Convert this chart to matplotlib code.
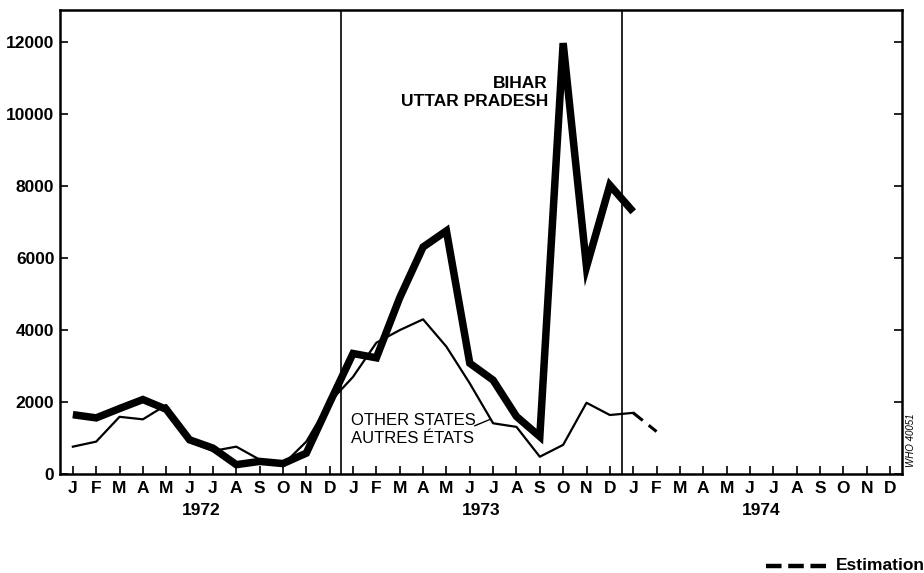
import matplotlib
matplotlib.use("Agg")
import matplotlib.pyplot as plt
import numpy as np

plt.rcParams['font.family'] = ['Liberation Sans Narrow', 'Liberation Sans', 'DejaVu Sans']

months = ["J", "F", "M", "A", "M", "J", "J", "A", "S", "O", "N", "D"]
years = ["1972", "1973", "1974"]

# Bihar / Uttar Pradesh, Jan 1972 .. Jan 1974
bihar_up = [1650, 1560, 1820, 2070, 1800, 950, 720, 260, 350, 290, 580, 1980,
            3350, 3230, 4900, 6310, 6760, 3080, 2610, 1600, 1040, 11980, 5760, 8030,
            7290]
# Other states, Jan 1972 .. Jan 1974
other_states = [760, 900, 1590, 1520, 1920, 900, 640, 760, 400, 260, 900, 2000,
                2700, 3650, 4000, 4300, 3540, 2520, 1410, 1310, 480, 810, 1980, 1640,
                1700]
# Estimated other states, Jan 1974 .. Feb 1974
other_est = [1700, 1180]

yticks = [0, 2000, 4000, 6000, 8000, 10000, 12000]

fig = plt.figure(figsize=(9.24, 5.73), dpi=100)
ax = fig.add_axes([60/924, 1-474/573, (901.7-60)/924, (474-10)/573])

x_main = np.arange(len(bihar_up))
ax.plot(x_main, bihar_up, color='black', lw=5.4, solid_joinstyle='miter', solid_capstyle='butt')
ax.plot(np.arange(len(other_states)), other_states, color='black', lw=1.6)
ax.plot(np.arange(24, 24 + len(other_est)), other_est, color='black', lw=2.2,
        dashes=(4, 2.5))

ax.axvline(11.5, color='black', lw=1.2)
ax.axvline(23.5, color='black', lw=1.2)

ax.set_xlim(-0.55, 35.5)
ax.set_ylim(0, 12900)

ax.set_yticks(yticks)
ax.set_yticklabels([str(v) for v in yticks], fontsize=12.5, fontweight='bold')
ax.set_xticks(np.arange(36))
ax.set_xticklabels(months * 3, fontsize=12.5, fontweight='bold')
ax.tick_params(axis='both', direction='in', length=6, width=1.2, right=True, pad=5)
ax.tick_params(axis='y', pad=4)
for s in ax.spines.values():
    s.set_linewidth(1.8)

for i, yr in enumerate(years):
    ax.text(5.5 + 12*i, -0.062, yr, transform=ax.get_xaxis_transform(),
            ha='center', va='top', fontsize=12.5, fontweight='bold')

ax.text(20.35, 10600, "BIHAR\nUTTAR PRADESH", ha='right', va='center',
        fontsize=12.5, fontweight='bold', linespacing=1.25)
ax.text(11.9, 1250, "OTHER STATES\nAUTRES ÉTATS", ha='left', va='center',
        fontsize=12, linespacing=1.25)
ax.annotate("", xy=(17.95, 1540), xytext=(17.1, 1310),
            arrowprops=dict(arrowstyle='-', color='black', lw=1.0))

fig.text(911/924, 1-440/573, "WHO 40051", rotation=90, ha='center', va='center',
         fontsize=7, style='italic')

fig.add_artist(plt.Line2D([766/924, 826/924], [1-566/573, 1-566/573], color='black',
                          lw=3.2, dashes=(3.5, 1.5)))
fig.text(836/924, 1-566/573, "Estimation", ha='left', va='center', fontsize=12.5,
         fontweight='bold')

fig.savefig("out.png", dpi=100)
